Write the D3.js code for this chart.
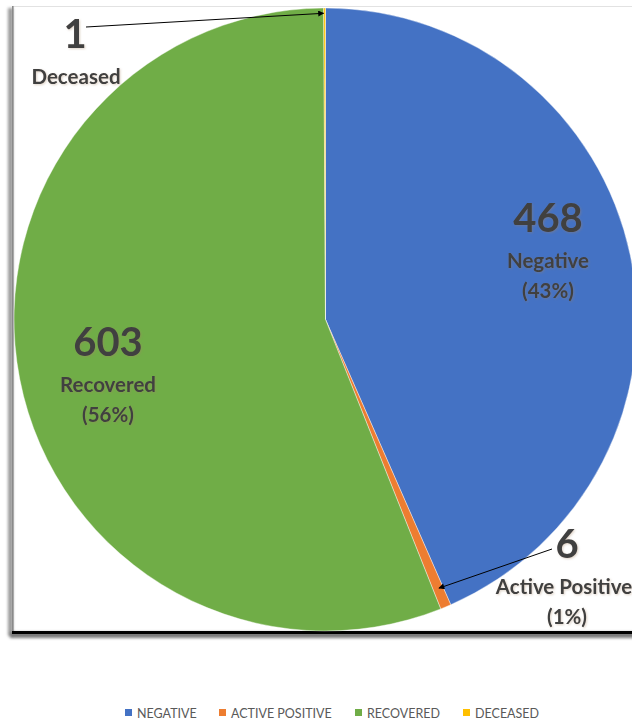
<!DOCTYPE html>
<html>
<head>
<meta charset="utf-8">
<script src="https://cdn.jsdelivr.net/npm/d3@7"></script>
<style>
  html, body { margin: 0; padding: 0; background: #fff; }
  svg { display: block; }
</style>
</head>
<body>
<svg id="chart" width="632" height="721"></svg>
<script>
const categories = ["Negative", "Active Positive", "Recovered", "Deceased"];
const legendLabels = ["NEGATIVE", "ACTIVE POSITIVE", "RECOVERED", "DECEASED"];
const values = [468, 6, 603, 1];
const percentLabels = ["(43%)", "(1%)", "(56%)", ""];
const colors = ["#4472C4", "#ED7D31", "#70AD47", "#FFC000"];

const svg = d3.select("#chart");
const cx = 325.5, cy = 319.5, r = 311.5;
const textColor = "#404040";

// defs
const defs = svg.append("defs");
const blur = defs.append("filter").attr("id", "blur").attr("x", "-50%").attr("y", "-50%").attr("width", "200%").attr("height", "200%");
blur.append("feGaussianBlur").attr("stdDeviation", 1.8);
const glow = defs.append("filter").attr("id", "glow").attr("x", "-20%").attr("y", "-20%").attr("width", "140%").attr("height", "140%");
glow.append("feGaussianBlur").attr("in", "SourceAlpha").attr("stdDeviation", 0.8).attr("result", "b");
glow.append("feOffset").attr("in", "b").attr("dx", 0.5).attr("dy", 0.5).attr("result", "o");
glow.append("feFlood").attr("flood-color", "#a08060").attr("flood-opacity", 0.35);
glow.append("feComposite").attr("in2", "o").attr("operator", "in").attr("result", "s");
const gm = glow.append("feMerge");
gm.append("feMergeNode").attr("in", "s");
gm.append("feMergeNode").attr("in", "SourceGraphic");
defs.append("marker").attr("id", "arrow").attr("viewBox", "0 0 10 10")
  .attr("refX", 9).attr("refY", 5).attr("markerWidth", 7).attr("markerHeight", 6)
  .attr("orient", "auto").attr("markerUnits", "userSpaceOnUse")
  .append("path").attr("d", "M0,0 L10,5 L0,10 Z").attr("fill", "#000");

// frame (plot box with shadow)
const frame = svg.append("g");
frame.append("line").attr("x1", 12).attr("x2", 640).attr("y1", 6.5).attr("y2", 6.5)
  .attr("stroke", "#e2e2e2").attr("stroke-width", 1);
frame.append("rect").attr("x", 8).attr("y", 8).attr("width", 5).attr("height", 628)
  .attr("fill", "#9a9a9a").attr("filter", "url(#blur)");
frame.append("line").attr("x1", 12.8).attr("x2", 12.8).attr("y1", 6).attr("y2", 632)
  .attr("stroke", "#8a8a8a").attr("stroke-width", 1.6);
frame.append("rect").attr("x", 10).attr("y", 632).attr("width", 640).attr("height", 6)
  .attr("fill", "#777").attr("filter", "url(#blur)");
frame.append("line").attr("x1", 12).attr("x2", 640).attr("y1", 632.5).attr("y2", 632.5)
  .attr("stroke", "#000").attr("stroke-width", 3);

// pie
const pie = d3.pie().sort(null).value(d => d)(values);
const arc = d3.arc().innerRadius(0).outerRadius(r);
const g = svg.append("g").attr("transform", `translate(${cx},${cy})`);
g.selectAll("path").data(pie).join("path")
  .attr("d", arc)
  .attr("fill", (d, i) => colors[i])
  .attr("stroke", "#fff").attr("stroke-width", 0.4);

// labels
const labelLayout = [
  { x: 548, y: 232, lx: 548 },   // Negative
  { x: 567, y: 558, lx: 564 },   // Active Positive
  { x: 108, y: 356, lx: 108 },   // Recovered
  { x: 75,  y: 48,  lx: 76 }     // Deceased
];
const labels = svg.append("g").attr("font-family", "Lato, sans-serif")
  .attr("font-weight", "bold").attr("fill", textColor).attr("text-anchor", "middle")
  .attr("filter", "url(#glow)");
categories.forEach((c, i) => {
  const L = labelLayout[i];
  labels.append("text").attr("x", L.x).attr("y", L.y).attr("font-size", 40).text(values[i]);
  labels.append("text").attr("x", L.lx).attr("y", L.y + 36).attr("font-size", 20.5).text(c);
  if (percentLabels[i]) labels.append("text").attr("x", L.x).attr("y", L.y + 66).attr("font-size", 20.5).text(percentLabels[i]);
});

// leader arrows for small slices
function polar(angle, rad) { return [cx + rad * Math.sin(angle), cy - rad * Math.cos(angle)]; }
const dec = pie[3], act = pie[1];
const decTarget = polar((dec.startAngle + dec.endAngle) / 2, r * 0.983);
const actTarget = polar((act.startAngle + act.endAngle) / 2, r * 0.935);
svg.append("line").attr("x1", 86).attr("y1", 27).attr("x2", decTarget[0] - 1).attr("y2", decTarget[1])
  .attr("stroke", "#000").attr("stroke-width", 1).attr("marker-end", "url(#arrow)");
svg.append("line").attr("x1", 552).attr("y1", 549).attr("x2", actTarget[0] + 1).attr("y2", actTarget[1])
  .attr("stroke", "#000").attr("stroke-width", 1).attr("marker-end", "url(#arrow)");

// legend
const legendX = [125, 219, 355, 463];
const legend = svg.append("g").attr("font-family", "Lato, 'Open Sans', sans-serif").attr("font-size", 12.5).attr("fill", "#595959");
legendLabels.forEach((t, i) => {
  legend.append("rect").attr("x", legendX[i]).attr("y", 709).attr("width", 7).attr("height", 7).attr("fill", colors[i]);
  legend.append("text").attr("x", legendX[i] + 12).attr("y", 717.5).text(t);
});
</script>
</body>
</html>
